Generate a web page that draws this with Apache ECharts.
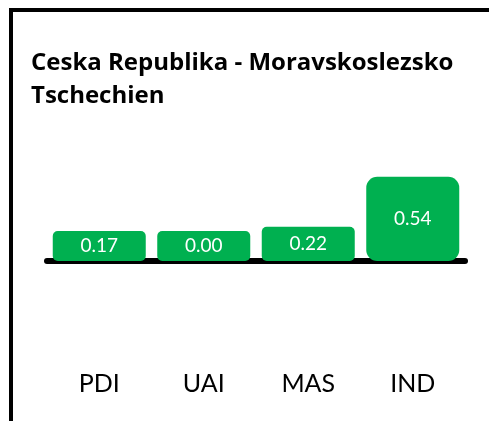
<!DOCTYPE html>
<html>
<head>
<meta charset="utf-8">
<script src="https://cdn.jsdelivr.net/npm/echarts@6/dist/echarts.min.js"></script>
<style>
html,body{margin:0;padding:0;background:#fff;}
#c{width:489px;height:421px;}
</style>
</head>
<body>
<div id="c"></div>
<script>
var titleLines = ['Ceska Republika - Moravskoslezsko', 'Tschechien'];
var categories = ['PDI', 'UAI', 'MAS', 'IND'];
var values = [0.17, 0.00, 0.22, 0.54];

var chart = echarts.init(document.getElementById('c'), null, {renderer: 'canvas'});
var option = {
  backgroundColor: '#ffffff',
  animation: false,
  title: {
    text: titleLines.join('\n'),
    left: 26,
    top: 42,
    textStyle: {
      fontFamily: 'Open Sans',
      fontWeight: 'bold',
      fontSize: 24,
      lineHeight: 33,
      color: '#000000'
    }
  },
  graphic: [{
    type: 'rect',
    shape: {x: 11, y: 10, width: 600, height: 600},
    style: {fill: 'none', stroke: '#000000', lineWidth: 4},
    silent: true
  }],
  grid: {left: 47, right: 24, top: 105, bottom: 160},
  xAxis: {
    type: 'category',
    data: categories,
    axisLine: {show: true, lineStyle: {color: '#000000', width: 6}},
    axisTick: {show: false},
    axisLabel: {
      margin: 110,
      fontFamily: 'Lato',
      fontSize: 25,
      color: '#000000'
    }
  },
  yAxis: {
    type: 'value',
    min: 0,
    max: 1,
    show: false,
    splitLine: {show: false}
  },
  series: [{
    type: 'bar',
    barWidth: 93,
    barMinHeight: 30,
    data: values.map(function (v) {
      return {value: v, itemStyle: {borderRadius: v > 0.4 ? 11 : 5}};
    }),
    itemStyle: {color: '#00B050'},
    label: {
      show: true,
      position: 'inside',
      formatter: function (p) { return p.value.toFixed(2); },
      fontFamily: 'Lato',
      fontSize: 19,
      color: '#ffffff'
    }
  }]
};
chart.setOption(option);
</script>
</body>
</html>
